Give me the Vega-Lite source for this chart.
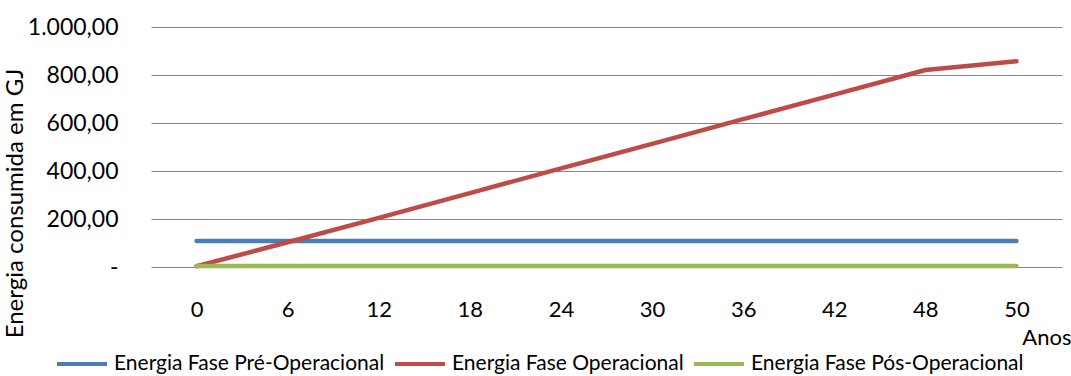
{
  "$schema": "https://vega.github.io/schema/vega-lite/v6.json",
  "width": 911,
  "height": 240,
  "autosize": "none",
  "padding": {"left": 151, "top": 27, "right": 9, "bottom": 109},
  "background": "white",
  "config": {
    "font": "Lato",
    "view": {"stroke": null},
    "locale": {"number": {"decimal": ",", "thousands": ".", "grouping": [3], "currency": ["R$", ""]}}
  },
  "data": {
    "values": [
      {"ano": 0, "serie": "Energia Fase Pré-Operacional", "energia": 108},
      {"ano": 6, "serie": "Energia Fase Pré-Operacional", "energia": 108},
      {"ano": 12, "serie": "Energia Fase Pré-Operacional", "energia": 108},
      {"ano": 18, "serie": "Energia Fase Pré-Operacional", "energia": 108},
      {"ano": 24, "serie": "Energia Fase Pré-Operacional", "energia": 108},
      {"ano": 30, "serie": "Energia Fase Pré-Operacional", "energia": 108},
      {"ano": 36, "serie": "Energia Fase Pré-Operacional", "energia": 108},
      {"ano": 42, "serie": "Energia Fase Pré-Operacional", "energia": 108},
      {"ano": 48, "serie": "Energia Fase Pré-Operacional", "energia": 108},
      {"ano": 50, "serie": "Energia Fase Pré-Operacional", "energia": 108},
      {"ano": 0, "serie": "Energia Fase Operacional", "energia": 3},
      {"ano": 6, "serie": "Energia Fase Operacional", "energia": 103},
      {"ano": 12, "serie": "Energia Fase Operacional", "energia": 205},
      {"ano": 18, "serie": "Energia Fase Operacional", "energia": 308},
      {"ano": 24, "serie": "Energia Fase Operacional", "energia": 411},
      {"ano": 30, "serie": "Energia Fase Operacional", "energia": 513},
      {"ano": 36, "serie": "Energia Fase Operacional", "energia": 616},
      {"ano": 42, "serie": "Energia Fase Operacional", "energia": 718},
      {"ano": 48, "serie": "Energia Fase Operacional", "energia": 821},
      {"ano": 50, "serie": "Energia Fase Operacional", "energia": 857},
      {"ano": 0, "serie": "Energia Fase Pós-Operacional", "energia": 4},
      {"ano": 6, "serie": "Energia Fase Pós-Operacional", "energia": 4},
      {"ano": 12, "serie": "Energia Fase Pós-Operacional", "energia": 4},
      {"ano": 18, "serie": "Energia Fase Pós-Operacional", "energia": 4},
      {"ano": 24, "serie": "Energia Fase Pós-Operacional", "energia": 4},
      {"ano": 30, "serie": "Energia Fase Pós-Operacional", "energia": 4},
      {"ano": 36, "serie": "Energia Fase Pós-Operacional", "energia": 4},
      {"ano": 42, "serie": "Energia Fase Pós-Operacional", "energia": 4},
      {"ano": 48, "serie": "Energia Fase Pós-Operacional", "energia": 4},
      {"ano": 50, "serie": "Energia Fase Pós-Operacional", "energia": 4}
    ]
  },
  "mark": {"type": "line", "strokeWidth": 4.5, "strokeCap": "round", "strokeJoin": "round"},
  "encoding": {
    "x": {
      "field": "ano",
      "type": "ordinal",
      "scale": {"type": "point", "padding": 0.5},
      "axis": {
        "title": "Anos",
        "titleFont": "Lato",
        "titleFontSize": 22,
        "titleFontWeight": "normal",
        "titleColor": "#000000",
        "titleAnchor": null,
        "titleAlign": "right",
        "titleBaseline": "middle",
        "titleX": 920,
        "titleY": 70,
        "labelAngle": 0,
        "labelFontSize": 22,
        "labelColor": "#000000",
        "labelPadding": 32,
        "labelBaseline": "top",
        "ticks": false,
        "domain": false,
        "grid": false
      }
    },
    "y": {
      "field": "energia",
      "type": "quantitative",
      "scale": {"domain": [0, 1000], "nice": false},
      "axis": {
        "values": [0, 200, 400, 600, 800, 1000],
        "format": ",.2f",
        "labelExpr": "datum.value == 0 ? '-\u00a0\u00a0\u00a0\u00a0\u00a0' : datum.label",
        "labelFontSize": 23,
        "labelColor": "#000000",
        "labelPadding": 33,
        "ticks": false,
        "domain": false,
        "grid": true,
        "gridColor": "#868686",
        "gridWidth": 1,
        "title": "Energia consumida em GJ",
        "titleFont": "Lato",
        "titleFontSize": 24,
        "titleFontWeight": "normal",
        "titleColor": "#000000",
        "titleAngle": 270,
        "titleAlign": "center",
        "titleBaseline": "middle",
        "titleX": -136,
        "titleY": 176
      }
    },
    "color": {
      "field": "serie",
      "type": "nominal",
      "scale": {
        "domain": ["Energia Fase Pré-Operacional", "Energia Fase Operacional", "Energia Fase Pós-Operacional"],
        "range": ["#4A7EBB", "#BE4B48", "#98B954"]
      },
      "legend": {
        "title": null,
        "orient": "none",
        "direction": "horizontal",
        "legendX": -96,
        "legendY": 310,
        "symbolType": "stroke",
        "symbolSize": 2500,
        "symbolStrokeWidth": 4,
        "labelFontSize": 21,
        "labelColor": "#000000",
        "labelOffset": 5,
        "columnPadding": 2,
        "labelLimit": 400
      }
    },
    "order": {"field": "ano", "type": "quantitative"}
  }
}
